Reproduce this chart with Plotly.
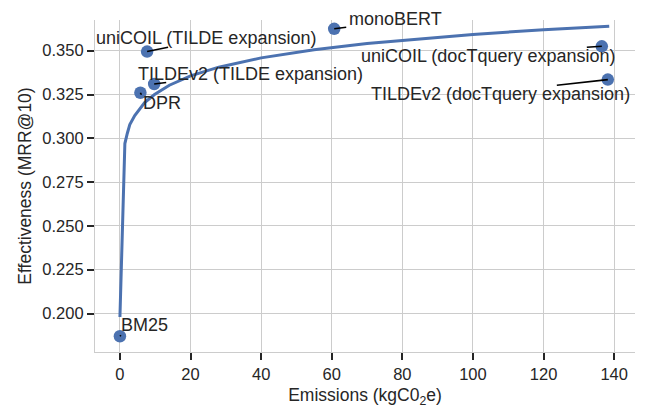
import plotly.graph_objects as go

# ---- data ----
models = ["BM25", "DPR", "TILDEv2 (TILDE expansion)", "uniCOIL (TILDE expansion)",
          "monoBERT", "uniCOIL (docTquery expansion)", "TILDEv2 (docTquery expansion)"]
emissions = [0.002, 5.8, 9.7, 7.7, 60.7, 136.5, 138.2]
mrr10 = [0.187, 0.326, 0.331, 0.3495, 0.3625, 0.3525, 0.3335]

# fitted trend line
fit_x = [0.002, 1.4, 2.1, 2.8, 4.2, 5.6, 7.0, 9.8, 14, 20, 28, 40, 55, 70, 85, 100, 120, 138.6]
fit_y = [0.198, 0.297, 0.3029, 0.3078, 0.3130, 0.3170, 0.3204, 0.3250, 0.3303, 0.3356,
         0.3406, 0.3459, 0.3506, 0.3541, 0.3569, 0.3593, 0.3620, 0.3640]

x_ticks = [0, 20, 40, 60, 80, 100, 120, 140]
y_ticks = [0.200, 0.225, 0.250, 0.275, 0.300, 0.325, 0.350]

# ---- label placement (pixel offsets from each point) ----
label_shift = {
    "BM25": (0, 11),
    "DPR": (2, -10),
    "TILDEv2 (TILDE expansion)": (-17, 10),
    "uniCOIL (TILDE expansion)": (-52, 14),
    "monoBERT": (14, 10),
    "uniCOIL (docTquery expansion)": (-242, -10),
    "TILDEv2 (docTquery expansion)": (-238, -14),
}
leader_end = {
    "BM25": (1, 1),
    "DPR": (1, -2),
    "TILDEv2 (TILDE expansion)": (12, 1.5),
    "uniCOIL (TILDE expansion)": (21, 4.3),
    "monoBERT": (12, 1.6),
    "uniCOIL (docTquery expansion)": (-15, -1),
    "TILDEv2 (docTquery expansion)": (-51, -5.7),
}

BLUE = "#4c72b0"
TXT = "#262626"
GRID = "#cccccc"
FONT = "Liberation Sans, Arial, sans-serif"

fig = go.Figure()
fig.add_trace(go.Scatter(x=fit_x, y=fit_y, mode="lines",
                         line=dict(color=BLUE, width=3), hoverinfo="skip", showlegend=False))
fig.add_trace(go.Scatter(x=emissions, y=mrr10, mode="markers", text=models,
                         marker=dict(color=BLUE, size=12.5, line=dict(width=0)),
                         showlegend=False))

for m, xv, yv in zip(models, emissions, mrr10):
    dx, dy = label_shift[m]
    fig.add_annotation(x=xv, y=yv, xref="x", yref="y", text=m, showarrow=False,
                       xanchor="left", yanchor="middle", xshift=dx, yshift=dy,
                       font=dict(family=FONT, size=18, color=TXT), borderpad=0)
    lx, ly = leader_end[m]
    fig.add_shape(type="line", xref="x", yref="y", xsizemode="pixel", ysizemode="pixel",
                  xanchor=xv, yanchor=yv, x0=0, y0=0, x1=lx, y1=ly,
                  line=dict(color="black", width=1.6))

fig.update_layout(
    width=646, height=408,
    margin=dict(l=95, r=11, t=20, b=56),
    paper_bgcolor="white", plot_bgcolor="white",
    font=dict(family=FONT, color=TXT),
    xaxis=dict(range=[-7.06, 145.9], tickvals=x_ticks, ticktext=[str(v) for v in x_ticks],
               showgrid=True, gridcolor=GRID, gridwidth=1.25, zeroline=False,
               showline=True, linecolor=GRID, linewidth=1.25, mirror=False,
               ticks="outside", ticklen=7, tickwidth=1.5, tickcolor=TXT,
               tickfont=dict(family=FONT, size=16.5, color=TXT),
               title=dict(text="Emissions (kgC0<sub>2</sub>e)", standoff=8,
                          font=dict(family=FONT, size=17.5, color=TXT)),
               automargin=False),
    yaxis=dict(range=[0.17803, 0.36752], tickvals=y_ticks, ticktext=[f"{v:.3f}" for v in y_ticks],
               showgrid=True, gridcolor=GRID, gridwidth=1.25, zeroline=False,
               showline=True, linecolor=GRID, linewidth=1.25, mirror=False,
               ticks="outside", ticklen=7, tickwidth=1.5, tickcolor=TXT,
               tickfont=dict(family=FONT, size=16.5, color=TXT),
               title=dict(text="Effectiveness (MRR@10)", standoff=6,
                          font=dict(family=FONT, size=17.5, color=TXT)),
               automargin=False),
)

fig.write_html("out.html", config={"displayModeBar": False},
               post_script="document.body.style.margin='0';document.body.style.overflow='hidden';")
